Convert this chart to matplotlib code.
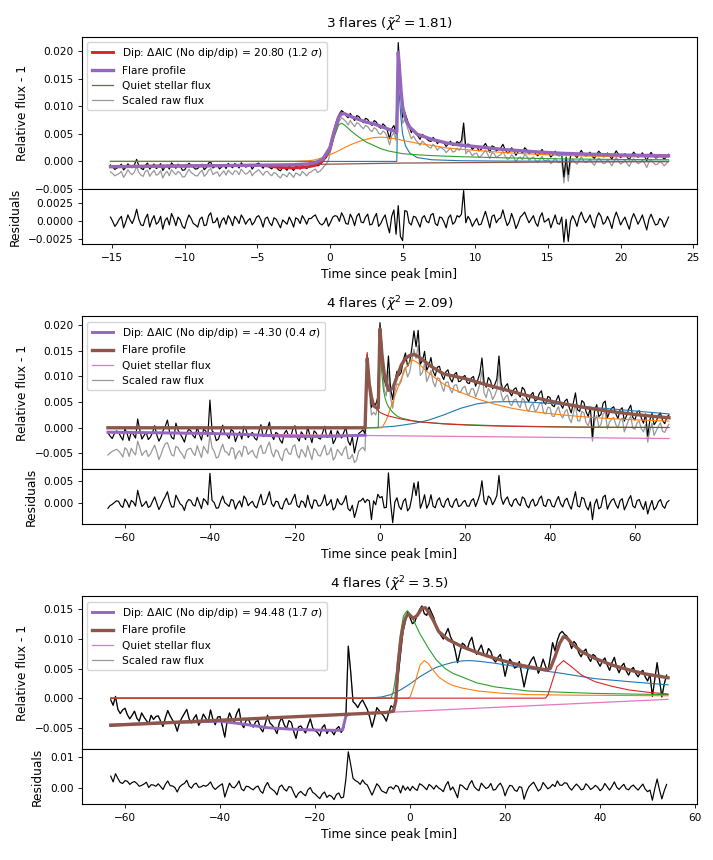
import numpy as np
import matplotlib.pyplot as plt
from matplotlib.ticker import MultipleLocator

plt.rcParams.update({
    "xtick.labelsize": 7.6,
    "ytick.labelsize": 7.6,
    "axes.labelsize": 8.8,
    "axes.titlesize": 9.7,
    "legend.fontsize": 7.7,
    "xtick.major.size": 2.7,
    "ytick.major.size": 2.7,
    "xtick.major.width": 0.6,
    "ytick.major.width": 0.6,
    "axes.linewidth": 0.8,
})

MILLI = 1e-3  # all values below are in units of 1e-3

# ---------------- panel 1: 3 flares (cadence 0.15 min) ----------------
flux1 = [-0.65, -1.0, -1.45, -1.2, -0.84, -0.5, -1.55, -1.1, -0.44, -0.9,
         -1.13, -0.6, 0.37, -0.8, -1.22, -1.5, -0.70, -0.3, -1.39, -0.9,
         -0.48, -1.3, -0.98, -0.4, -1.67, -1.0, -0.66, -1.4, -0.26, -0.7,
         -1.25, -0.5, -0.85, -1.6, -1.54, -0.9, -0.33, -0.7, -1.03, -1.4,
         -1.31, -0.8, -0.51, -1.5, -1.10, -0.3, -0.10, -1.2, -0.88, -0.6,
         -1.37, -1.0, -0.56, -1.3, -0.35, -0.8, -1.15, -0.4, -0.65, -1.2,
         -0.24, -0.7, -1.03, -0.9, -0.52, -1.4, -0.81, -0.5, -0.30, -0.8,
         -1.24, -0.6, -0.55, -1.1, -1.35, -0.8, -0.95, -1.5, -1.70, -1.1,
         -1.25, -1.6, -0.85, -1.2, -1.65, -0.9, -1.05, -1.4, -0.70, -1.0,
         -1.30, -0.9, -0.70, -0.4, -0.25, -0.8, -0.60, -0.2, 0.30, 0.7,
         1.50, 3.2, 4.80, 6.4, 7.60, 8.6, 9.20, 8.9, 8.30, 7.9,
         8.70, 8.0, 7.40, 8.3, 8.10, 7.5, 7.00, 7.8, 7.60, 6.9,
         6.50, 7.4, 7.10, 6.3, 6.00, 6.8, 6.40, 5.6, 4.10, 5.9,
         6.50, 5.0, 21.5, 15.5, 8.0, 8.9, 7.7, 6.4, 5.2, 5.8,
         5.2, 4.6, 4.0, 4.9, 4.6, 4.1, 3.75, 3.6, 4.35, 3.9,
         3.2, 3.8, 3.65, 3.3, 2.7, 3.2, 3.65, 2.9, 2.95, 3.6,
         3.25, 3.8, 6.95, 2.6, 3.15, 2.9, 2.15, 2.6, 2.75, 1.9,
         2.15, 2.7, 3.25, 2.5, 1.65, 2.8, 2.65, 1.9, 2.17, 2.4,
         3.10, 2.2, 1.53, 1.7, 2.46, 2.0, 1.10, 1.8, 2.04, 1.5,
         2.48, 2.1, 1.42, 1.7, 1.97, 1.4, 1.02, 1.6, 2.17, 1.3,
         1.43, 1.5, 0.79, 1.2, 1.85, 1.1, 1.02, 1.2, -2.8, 0.8,
         -2.4, 0.9, 1.63, 1.1, 0.70, 1.4, 1.99, 1.3, 0.98, 1.2,
         1.67, 0.9, 0.56, 1.3, 1.85, 1.4, 0.84, 0.9, 1.53, 1.0,
         0.42, 1.2, 1.91, 1.3, 0.70, 1.0, 1.39, 0.8, 0.28, 1.1,
         1.67, 1.2, 0.76, 1.0, 1.55, 0.9, 0.14, 1.1, 1.63, 1.0,
         0.62, 0.7, 1.21, 0.9, 0.40, 0.8, 1.30]
raw1 = [-1.9, -2.2, -2.6, -2.4, -2.2, -1.8, -2.9, -2.3, -1.5, -2.1,
        -2.4, -1.9, -0.9, -2.0, -2.5, -2.7, -1.8, -1.6, -2.7, -2.1,
        -1.6, -2.5, -2.3, -1.7, -3.0, -2.2, -1.8, -2.6, -1.5, -2.0,
        -2.4, -1.8, -2.1, -2.8, -2.8, -2.1, -1.4, -2.0, -2.3, -2.6,
        -2.6, -2.0, -1.6, -2.7, -2.3, -1.6, -1.3, -2.4, -2.1, -1.9,
        -2.7, -2.2, -1.7, -2.5, -1.6, -2.0, -2.4, -1.7, -1.8, -2.4,
        -1.4, -1.9, -2.3, -2.1, -1.6, -2.6, -2.1, -1.8, -1.5, -2.0,
        -2.5, -1.9, -1.8, -2.3, -2.6, -2.0, -2.2, -2.7, -3.0, -2.3,
        -2.5, -2.8, -2.0, -2.4, -2.9, -2.1, -2.3, -2.6, -1.8, -2.2,
        -2.6, -2.1, -1.9, -1.6, -1.4, -2.0, -1.8, -1.4, -0.9, -0.5,
        0.3, 2.0, 3.6, 5.1, 6.3, 7.3, 7.9, 7.6, 7.2, 6.6,
        7.4, 6.8, 6.3, 7.0, 6.8, 6.3, 5.9, 6.5, 6.3, 5.7,
        5.4, 6.1, 5.8, 5.1, 4.9, 5.5, 5.2, 4.4, 3.0, 4.6,
        5.2, 3.8, 19.8, 14.0, 6.9, 7.6, 6.4, 5.2, 4.1, 4.6,
        3.9, 3.4, 2.9, 3.7, 3.3, 2.9, 2.6, 2.4, 3.1, 2.7,
        2.0, 2.6, 2.4, 2.1, 1.6, 2.0, 2.4, 1.7, 1.8, 2.4,
        2.0, 2.6, 5.6, 1.4, 1.9, 1.7, 1.0, 1.4, 1.5, 0.7,
        1.0, 1.5, 2.0, 1.3, 0.5, 1.6, 1.4, 0.7, 1.0, 1.2,
        1.8, 1.0, 0.4, 0.5, 1.2, 0.8, -0.1, 0.6, 0.8, 0.3,
        1.3, 0.9, 0.2, 0.5, 0.8, 0.2, -0.2, 0.4, 0.9, 0.1,
        0.2, 0.3, -0.4, 0.0, 0.6, -0.1, -0.2, 0.0, -3.9, -0.4,
        -3.6, -0.3, 0.4, -0.1, -0.5, 0.2, 0.8, 0.1, -0.2, 0.0,
        0.4, -0.3, -0.7, 0.1, 0.6, 0.2, -0.4, -0.3, 0.3, -0.2,
        -0.8, 0.0, 0.7, 0.1, -0.5, -0.2, 0.2, -0.4, -0.9, -0.1,
        0.5, 0.0, -0.4, -0.2, 0.3, -0.3, -1.1, -0.1, 0.4, -0.2,
        -0.6, -0.5, 0.0, -0.3, -0.8, -0.4, 0.1]
resid1 = [0.5, -0.1, -0.8, -0.4, 0.2, 0.6, -1.0, -0.2, 0.8, 0.1,
          -0.4, 0.4, 1.6, 0.2, -0.6, -0.7, 0.3, 0.9, -0.9, 0.1,
          0.7, -0.5, -0.2, 0.6, -1.2, 0.0, 0.4, -0.6, 1.0, 0.3,
          -0.7, 0.5, 0.1, -0.8, -1.1, 0.0, 0.8, 0.3, -0.4, -0.6,
          -0.9, 0.2, 0.5, -0.7, -0.6, 0.7, 1.1, -0.3, -0.2, 0.4,
          -1.0, 0.0, 0.4, -0.5, 0.7, 0.2, -0.7, 0.6, 0.2, -0.4,
          0.8, 0.3, -0.5, 0.0, 0.3, -0.6, -0.2, 0.5, 0.7, 0.1,
          -0.9, 0.3, 0.5, -0.3, -0.7, 0.4, 0.2, -0.4, -1.0, 0.1,
          -0.2, -0.5, 0.5, -0.1, -0.9, 0.4, 0.2, -0.4, 0.7, 0.2,
          -0.5, 0.3, 0.3, 0.6, 0.8, 0.1, -0.4, -0.6, -0.3, 0.4,
          -0.8, -0.2, 0.5, 0.7, 0.6, -0.1, 1.1, 0.5, -0.4, -0.5,
          0.9, 0.3, -0.7, 0.6, 1.0, -0.2, -0.3, 0.5, 0.9, -0.6,
          -0.5, 0.4, 1.0, -0.8, -0.4, 0.3, 0.8, -0.6, -1.7, 0.6,
          1.5, -1.9, 2.1, -2.2, -2.8, 1.4, 1.3, -0.3, -0.6, 0.6,
          0.5, -0.2, -0.9, 0.4, 0.7, -0.1, -0.3, 0.8, 1.0, -0.4,
          -0.7, 0.5, 0.4, -0.2, -1.0, 0.4, 0.8, -0.5, -0.2, 0.7,
          0.5, 0.9, 4.2, -0.3, 0.6, 0.1, -0.8, -0.2, 0.3, -0.6,
          -0.5, 0.4, 1.3, 0.2, -1.0, 0.6, 0.8, -0.3, 0.2, 0.4,
          1.5, 0.3, -0.7, -0.2, 1.0, 0.1, -1.1, -0.4, 0.5, 0.8,
          1.2, 0.4, -0.3, 0.2, 0.7, -0.3, -0.8, 0.5, 1.1, -0.2,
          0.0, 0.3, -1.0, -0.1, 0.8, -0.4, -0.5, 0.5, -3.0, 0.2,
          -2.9, -0.1, 0.7, 0.1, -0.8, 0.5, 1.2, 0.3, -0.3, 0.2,
          0.8, -0.3, -1.0, 0.4, 1.1, 0.6, -0.5, -0.2, 0.6, -0.1,
          -1.1, 0.3, 1.2, 0.4, -0.6, 0.0, 0.5, -0.4, -1.2, 0.2,
          1.0, 0.3, -0.5, 0.1, 0.8, -0.3, -1.3, 0.2, 0.9, 0.1,
          -0.6, -0.5, 0.3, 0.0, -0.9, -0.2, 0.5]

blue1_t = [-15.1, 4.6, 4.7, 4.8, 4.9, 5.0, 5.2, 5.5, 6.0, 7.0, 9.0, 12.0, 23.3]
blue1 = [0, 0, 14.5, 11.0, 7.5, 5.0, 2.8, 1.5, 0.7, 0.3, 0.12, 0.06, 0.02]
orange1_t = [-15.1, -2.5, -1.5, -1.0, -0.5, 0.0, 0.5, 1.0, 1.5, 2.0, 2.5, 3.0, 3.5,
             4.0, 4.5, 5.0, 6.0, 7.0, 8.0, 9.0, 10.0, 12.0, 14.0, 16.0, 18.0, 20.0, 23.3]
orange1 = [0, 0, 0.1, 0.3, 0.7, 1.2, 1.8, 2.5, 3.1, 3.6, 4.0, 4.3, 4.4,
           4.3, 4.1, 3.8, 3.3, 2.9, 2.45, 2.2, 2.0, 1.6, 1.3, 1.08, 0.95, 0.85, 0.75]
green1_t = [-15.1, -1.0, -0.5, 0.0, 0.3, 0.6, 0.8, 1.0, 1.5, 2.0, 2.5, 3.0, 3.5, 4.0,
            5.0, 6.0, 7.0, 9.0, 12.0, 16.0, 20.0, 23.3]
green1 = [0, 0, 0.2, 1.8, 4.5, 6.6, 6.9, 6.6, 5.4, 4.4, 3.5, 2.9, 2.3, 1.9,
          1.4, 1.2, 1.05, 0.85, 0.65, 0.45, 0.35, 0.3]
quiet1_t = [-15.1, -5.0, 0.0, 5.0, 15.0, 23.3]
quiet1 = [-0.95, -0.70, -0.50, -0.30, -0.12, -0.05]
dip1_t = [-15.1, -5.0, -4.5, -4.0, -3.5, -3.0, -2.5, -2.0, -1.5, -1.0, -0.5, 0.0, 0.3, 0.6, 0.8]
dip1 = [-0.95, -0.70, -0.76, -0.92, -1.08, -1.15, -1.17, -1.12, -0.98, -0.72, 0.1, 2.3,
        5.4, 8.0, 8.63]
profile1_t = [-15.1, -5.0, -2.5, -1.5, -1.0, -0.5, 0.0, 0.3, 0.6, 0.8, 1.0, 1.5, 2.0, 2.5,
              3.0, 3.5, 4.0, 4.5, 4.6, 4.7, 4.8, 4.9, 5.0, 5.2, 5.5, 6.0, 7.0, 8.0, 9.0,
              10.0, 12.0, 14.0, 16.0, 18.0, 20.0, 23.3]
profile1 = [-0.95, -0.70, -0.60, -0.46, -0.24, 0.38, 2.5, 5.51, 8.02, 8.63, 8.64, 8.06,
            7.58, 7.1, 6.82, 6.34, 5.86, 5.43, 5.33, 19.76, 16.2, 12.65, 9.9, 7.62, 6.19,
            4.92, 3.99, 3.35, 2.94, 2.69, 2.14, 1.76, 1.46, 1.29, 1.15, 1.02]

# ---------------- panel 2: 4 flares (cadence 0.5 min) ----------------
flux2 = [-1.0, -1.6, -2.1, -1.2, -0.6, -0.9, -1.7, -2.4, -0.2, -1.1,
         -2.5, -0.7, -1.3, -2.0, 1.7, -0.4, -2.2, -1.5, -0.9, -2.3,
         -1.8, -0.9, 0.4, -1.4, -2.6, -1.8, -0.5, 0.3, 1.5, -0.8,
         -1.9, -2.2, 0.9, -0.5, -1.2, -1.9, -2.8, -1.1, -0.3, -0.6,
         -1.5, -2.0, 0.2, -1.3, -2.4, -0.3, -0.6, -1.7, 5.4, -0.6,
         -1.0, -2.5, -2.2, -0.9, 0.5, -1.2, -1.4, -2.1, -0.3, -0.7,
         -2.7, -1.5, -0.8, -2.2, 0.3, -0.4, -1.9, -1.3, -0.9, -2.0,
         -2.4, -0.8, 0.6, -1.7, -1.6, -0.2, 1.1, -1.4, -2.3, -0.9,
         -1.2, -2.4, -3.0, -1.1, -0.5, -1.6, -1.8, -0.3, 0.4, -1.9,
         -2.6, -0.8, -1.4, -2.3, 0.2, -1.5, -2.9, -0.6, -1.0, -2.0,
         -2.2, -1.0, 0.3, -1.9, -1.7, -0.5, -3.1, -2.3, -0.6, -1.4,
         -2.0, -0.9, 0.1, -2.6, -3.4, -1.8, -4.9, -2.9, -1.1, -0.8,
         -0.4, -1.2, 14.3, 9.0, 4.0, 4.8, 4.5, 6.0, 20.5, 15.5,
         9.5, 8.0, 14.0, 7.6, 5.5, 9.0, 11.0, 10.2, 10.8, 13.2,
         14.6, 12.0, 12.9, 15.5, 18.9, 15.8, 19.0, 12.4, 13.1, 14.9,
         11.2, 12.1, 13.7, 11.0, 10.1, 11.8, 12.0, 10.3, 9.4, 10.9,
         11.3, 9.6, 8.9, 10.4, 10.8, 9.0, 9.1, 9.9, 10.2, 8.8,
         8.6, 9.7, 10.0, 8.1, 9.3, 10.6, 13.6, 8.9, 7.9, 9.8,
         9.2, 7.6, 8.4, 9.5, 14.0, 8.8, 7.1, 8.1, 8.6, 6.9,
         6.2, 7.5, 7.8, 6.6, 6.0, 7.9, 7.4, 5.8, 5.1, 6.4,
         6.9, 5.2, 5.5, 6.7, 7.2, 5.0, 4.6, 6.1, 5.9, 4.4,
         4.1, 5.4, 6.3, 4.6, 3.8, 5.2, 5.6, 4.0, 2.9, 4.9,
         6.8, 3.5, 3.2, 5.3, 4.9, 3.1, 2.2, 4.0, -1.9, 3.4,
         4.5, 2.2, 2.6, 4.8, 5.2, 1.9, 3.0, 3.8, 4.1, 2.7,
         1.8, 3.5, 3.9, 1.3, 2.3, 3.6, 4.4, 2.0, 1.5, 3.1,
         3.3, 1.9, 0.9, 2.7, -1.6, 1.5, 2.8, 0.6, 1.2, 2.4,
         2.9, 1.4, 0.8, 2.1, 2.5]
raw2 = [-5.3, -4.9, -4.6, -4.4, -4.2, -4.5, -5.0, -5.7, -3.9, -4.3,
        -5.6, -4.0, -4.8, -5.3, -2.6, -3.9, -5.4, -4.8, -4.4, -5.6,
        -5.1, -4.2, -3.4, -4.7, -6.2, -5.2, -4.0, -3.1, -2.9, -4.1,
        -5.3, -5.5, -3.6, -3.9, -4.7, -5.2, -6.0, -4.5, -4.1, -4.0,
        -4.9, -5.4, -3.5, -4.7, -5.8, -3.6, -4.3, -5.0, -1.4, -3.9,
        -4.6, -5.9, -5.7, -4.3, -3.2, -4.6, -4.8, -5.4, -3.9, -4.0,
        -6.1, -4.9, -4.5, -5.6, -3.6, -3.8, -5.2, -4.7, -4.4, -5.4,
        -5.9, -4.1, -3.4, -5.0, -4.9, -3.6, -2.8, -4.8, -5.7, -4.3,
        -4.6, -5.8, -6.4, -4.5, -4.0, -5.0, -5.2, -3.7, -3.3, -5.3,
        -5.9, -4.2, -4.8, -5.7, -3.5, -4.9, -6.2, -4.0, -4.5, -5.4,
        -5.5, -4.4, -3.4, -5.3, -5.0, -3.9, -6.3, -5.7, -4.2, -4.8,
        -5.4, -4.3, -3.6, -6.0, -6.0, -5.2, -6.8, -6.3, -4.6, -4.1,
        -3.8, -4.5, 11.6, 6.8, 2.5, 3.0, 2.5, 4.2, 18.0, 13.4,
        7.4, 6.2, 11.0, 5.8, 3.8, 7.0, 8.6, 8.3, 9.0, 11.0,
        11.8, 9.9, 10.9, 13.2, 15.3, 13.5, 16.1, 10.2, 10.8, 12.6,
        9.0, 10.0, 11.2, 8.9, 8.0, 9.7, 9.6, 8.2, 7.1, 8.8,
        9.0, 7.5, 6.8, 8.3, 8.4, 6.9, 7.0, 7.8, 8.1, 6.7,
        6.5, 7.6, 7.6, 6.0, 7.1, 8.5, 11.2, 6.8, 5.9, 7.7,
        7.0, 5.5, 6.3, 7.4, 11.5, 6.7, 5.2, 6.0, 6.4, 4.8,
        4.3, 5.4, 5.6, 4.5, 3.9, 5.8, 5.3, 3.7, 3.2, 4.3,
        4.8, 3.1, 3.6, 4.6, 5.0, 2.9, 2.7, 4.0, 3.9, 2.3,
        2.2, 3.3, 4.1, 2.5, 1.9, 3.1, 3.6, 1.9, 1.0, 2.8,
        4.6, 1.4, 1.3, 3.2, 2.9, 1.0, 0.4, 1.9, -2.6, 1.3,
        2.4, 0.1, 0.7, 2.7, 3.1, -0.2, 1.1, 1.7, 2.0, 0.6,
        0.0, 1.4, 1.9, -0.8, 0.4, 1.5, 2.3, -0.1, -0.3, 1.0,
        1.3, -0.2, -0.8, 0.6, -2.8, -0.6, 0.9, -1.5, -0.6, 0.3,
        1.0, -0.7, -0.9, 0.0, 0.7]
resid2 = [-1.2, -0.6, -0.3, 0.1, 0.5, 0.4, -0.6, -1.0, 0.9, 0.2,
          -1.0, 0.6, 0.2, -0.7, 2.9, 0.9, -0.8, -0.3, 0.4, -1.0,
          -0.7, 0.4, 1.4, -0.1, -1.5, -0.5, 0.6, 1.5, 2.6, 0.4,
          -0.9, -0.9, 1.8, 0.8, -0.2, -0.6, -1.7, 0.1, 0.8, 0.6,
          -0.4, -0.7, 1.3, 0.0, -1.3, 1.0, 0.5, -0.4, 6.8, 0.6,
          0.1, -1.2, -1.1, 0.4, 1.6, 0.1, -0.3, -0.8, 0.8, 0.6,
          -1.4, -0.2, 0.5, -0.9, 1.6, 0.9, -0.6, 0.0, 0.4, -0.7,
          -1.1, 0.5, 2.0, -0.4, -0.2, 1.1, 2.6, -0.1, -0.8, 0.4,
          0.3, -1.1, -1.4, 0.2, 1.1, -0.3, -0.2, 1.0, 2.0, -0.6,
          -1.0, 0.5, 0.2, -1.0, 1.8, -0.2, -1.3, 0.7, 0.6, -0.7,
          -0.6, 0.3, 1.9, -0.6, -0.1, 0.8, -1.6, -1.0, 1.0, -0.1,
          -0.4, 0.4, 1.7, -1.3, -1.8, -0.5, -3.3, -1.6, 0.4, 0.5,
          1.1, 0.1, 0.8, 0.5, -3.8, 0.5, -0.4, 2.0, 1.2, 1.5,
          -1.1, -1.0, 6.9, 0.1, -4.5, 0.2, 1.2, -0.8, -1.5, 0.4,
          1.0, -1.8, -1.1, 1.3, 4.6, 1.7, 4.9, -1.2, 0.1, 1.9,
          -1.2, -0.2, 1.9, -0.7, -1.1, 0.6, 1.2, -0.5, -1.0, 0.5,
          1.1, -0.6, -1.0, 0.4, 1.0, -0.8, -0.6, 0.2, 0.6, -0.7,
          -0.7, 0.55, 1.0, -0.8, 0.5, 1.95, 5.1, 0.5, -0.4, 1.6,
          1.1, -0.4, 0.5, 1.7, 6.3, 1.25, -0.3, 0.8, 1.4, -0.2,
          -0.8, 0.6, 1.0, -0.1, -0.6, 1.4, 1.0, -0.5, -1.1, 0.3,
          0.9, -0.7, -0.3, 1.0, 1.6, -0.5, -0.8, 0.8, 0.7, -0.7,
          -0.9, 0.5, 1.5, -0.15, -0.9, 0.6, 1.1, -0.4, -1.4, 0.65,
          2.6, -0.65, -0.9, 1.3, 1.0, -0.75, -1.6, 0.25, -3.8, -0.25,
          0.9, -1.35, -0.9, 1.35, 1.8, -1.4, -0.2, 0.65, 1.0, -0.35,
          -1.2, 0.55, 1.0, -1.55, -0.5, 0.85, 1.7, -0.65, -1.1, 0.55,
          0.8, -0.55, -1.5, 0.35, -2.5, -0.75, 0.6, -1.57, -0.95, 0.28,
          0.8, -0.65, -1.2, 0.13, 0.55]

blue2_t = [-64, -3.0, 0.0, 3.5, 8.0, 11.5, 15.0, 19.0, 23.0, 27.0, 31.0, 35.0, 39.0,
           43.0, 47.0, 51.0, 55.0, 59.0, 63.0, 68.0]
blue2 = [0, 0, 0.1, 0.3, 0.85, 1.5, 2.5, 3.8, 4.7, 5.05, 5.1, 5.0, 4.8,
         4.55, 4.25, 3.9, 3.65, 3.35, 3.05, 2.7]
orange2_t = [-64, 0.5, 1.5, 3.0, 4.5, 6.0, 7.0, 7.8, 9.0, 11.0, 13.0, 15.0, 17.0, 19.0,
             23.0, 27.0, 31.0, 35.0, 39.0, 43.0, 47.0, 51.0, 55.0, 60.0, 64.0, 68.0]
orange2 = [0, 0, 1.5, 5.0, 8.5, 11.5, 12.8, 13.2, 12.6, 11.0, 9.7, 8.5, 7.6, 6.9,
           5.6, 4.6, 3.8, 3.25, 2.85, 2.5, 2.2, 1.95, 1.75, 1.55, 1.42, 1.3]
green2_t = [-64, -0.4, 0.0, 0.4, 0.8, 1.2, 1.6, 2.0, 3.0, 4.0, 5.0, 7.5, 10.0, 15.0,
            20.0, 30.0, 45.0, 68.0]
green2 = [0, 0, 17.0, 11.0, 7.5, 5.8, 4.8, 4.1, 3.0, 2.3, 1.9, 1.4, 1.1, 0.8,
          0.6, 0.35, 0.15, 0.05]
red2_t = [-64, -3.4, -3.0, -2.7, -2.4, -2.0, -1.5, -1.0, 0.0, 1.0, 2.0, 3.5, 5.0, 7.5,
          10.0, 15.0, 20.0, 25.0, 30.0, 40.0, 50.0, 68.0]
red2 = [0, 0, 14.7, 10.0, 7.5, 5.5, 4.5, 3.8, 3.0, 2.6, 2.3, 2.0, 1.7, 1.35,
        1.1, 0.75, 0.55, 0.4, 0.3, 0.17, 0.1, 0.05]
quiet2_t = [-64, 68]
quiet2 = [-1.0, -2.1]
dip2_t = [-64, -50, -40, -32, -28, -24, -20, -15, -10, -6, -3.5]
dip2 = [-0.85, -1.0, -1.1, -1.3, -1.45, -1.6, -1.68, -1.7, -1.62, -1.5, -1.45]
profile2_t = [-64, -3.5, -3.0, -2.5, -2.0, -1.5, -1.0, -0.4, 0.0, 0.5, 1.0, 2.0, 3.0,
              4.0, 5.0, 6.0, 7.0, 8.0, 9.0, 10.0, 12.0, 15.0, 20.0, 25.0, 30.0, 35.0,
              40.0, 45.0, 50.0, 55.0, 60.0, 64.0, 68.0]
profile2 = [0, 0, 13.5, 8.5, 6.0, 4.3, 4.0, 3.9, 19.3, 14.0, 10.6, 7.3, 7.7,
            9.9, 12.2, 13.5, 14.1, 14.3, 13.9, 13.3, 12.0, 10.5, 9.6, 8.4, 7.3, 6.2,
            5.2, 4.4, 3.7, 3.1, 2.6, 2.25, 1.95]

# ---------------- panel 3: 4 flares (cadence 0.5 min) ----------------
flux3 = [-0.3, -1.2, 0.3, -1.9, -2.6, -2.0, -1.7, -2.8, -3.5, -2.9,
         -2.2, -3.4, -3.9, -2.5, -3.2, -3.8, -4.3, -2.9, -3.6, -3.1,
         -3.0, -3.9, -4.8, -3.3, -2.1, -3.0, -3.7, -4.4, -5.6, -4.1,
         -3.3, -2.6, -1.9, -3.5, -4.2, -3.4, -2.8, -4.6, -3.9, -2.7,
         -3.4, -4.1, -2.0, -3.6, -4.5, -3.2, -3.1, -4.8, -6.6, -3.9,
         -2.5, -3.5, -4.0, -2.6, -1.8, -4.3, -5.0, -3.7, -3.6, -4.5,
         -4.9, -4.0, -3.8, -5.1, -5.7, -4.4, -2.9, -4.2, -4.6, -5.2,
         -6.0, -4.1, -3.3, -4.5, -5.2, -3.8, -4.1, -5.6, -6.8, -4.9,
         -4.7, -5.3, -5.9, -4.6, -3.5, -5.0, -5.5, -5.8, -6.4, -5.0,
         -4.5, -6.0, -5.3, -5.6, -6.2, -5.2, -4.8, -5.8, -5.1, -3.0,
         8.8, 4.5, -0.6, -1.0, -1.6, -0.8, -0.3, -1.1, -1.9, -3.2,
         -4.9, -3.4, -1.6, -2.1, -2.6, -3.1, -3.9, -2.5, -1.3, -1.6,
         -0.5, 3.8, 7.5, 11.2, 13.0, 14.6, 13.6, 12.6, 12.9, 14.1,
         15.0, 15.6, 14.3, 14.0, 15.4, 14.5, 13.6, 12.0, 11.2, 10.6,
         10.0, 10.9, 11.8, 10.4, 9.6, 8.0, 6.0, 7.8, 9.3, 9.0,
         8.2, 9.5, 10.3, 8.5, 7.4, 8.2, 9.0, 7.6, 7.0, 8.4,
         7.9, 6.6, 6.1, 6.9, 7.4, 5.9, 3.7, 5.5, 6.6, 6.0,
         5.1, 5.3, 6.2, 4.0, 1.9, 3.8, 5.6, 6.4, 7.0, 5.8,
         4.2, 5.2, 6.6, 5.4, 4.5, 6.8, 9.4, 8.0, 9.8, 10.9,
         11.3, 10.8, 10.5, 9.6, 8.4, 9.6, 9.1, 7.7, 7.0, 7.9,
         8.3, 6.9, 6.2, 7.4, 7.1, 6.1, 5.4, 6.3, 6.8, 5.6,
         4.7, 6.0, 6.9, 5.2, 4.3, 5.4, 5.9, 4.6, 3.9, 4.8,
         5.2, 4.2, 3.6, 4.4, 4.7, 3.6, 2.9, 4.0, 0.3, 3.2,
         6.0, 3.1, 0.2, 2.4, 3.9]
resid3 = [3.8, 2.0, 4.6, 3.1, 1.8, 1.5, 2.4, 2.2, 1.2, 1.8,
          2.1, 1.5, 0.6, 0.9, 1.3, 1.9, 0.2, 1.1, 1.0, 0.6,
          1.4, 0.5, -0.4, 1.2, 2.3, 0.8, 0.7, 0.2, -1.2, 0.4,
          1.1, 1.5, 2.5, 0.6, 0.0, 1.2, 1.6, 0.3, 0.4, 0.9,
          0.6, 1.1, 2.0, 0.4, -0.4, 0.3, 0.9, 1.4, -2.8, -0.5,
          1.6, 0.4, 0.1, 1.0, 2.3, -0.2, -0.8, 0.6, 0.5, -0.1,
          -0.5, 0.3, 0.7, -0.9, -1.6, 0.6, 1.8, 0.2, -0.4, -1.0,
          -2.1, 0.4, 1.0, -0.3, -0.9, 0.5, 0.3, -1.4, -3.0, -1.6,
          -1.0, -1.8, -2.4, -0.5, 0.2, -1.3, -1.8, -2.6, -3.3, -1.9,
          -1.2, -2.9, -2.2, -2.6, -3.6, -2.0, -1.5, -3.1, -2.8, 3.0,
          11.5, 7.5, 3.1, 2.4, 2.0, 1.2, 2.6, 1.5, 1.0, -0.6,
          -2.2, -0.4, 1.4, 0.6, -0.8, -1.2, -1.6, 0.2, 0.4, -0.3,
          0.9, 0.5, -1.5, 0.8, -0.6, 0.4, -0.8, 0.6, -0.2, -0.7,
          1.4, 1.0, 0.3, -0.5, 1.2, 0.6, -0.3, 0.9, 0.1, -0.4,
          -1.1, 0.9, 2.1, -0.6, 0.4, -1.2, -3.0, 1.1, 0.8, 0.0,
          -0.5, 1.3, 2.4, 0.5, -0.3, -0.8, 1.6, 0.7, -0.1, 0.3,
          1.5, -0.6, -0.4, 0.8, 1.6, 0.2, -2.4, -0.4, 0.9, 0.7,
          -0.6, -1.0, 0.5, 0.2, -3.5, -1.2, 0.4, 1.2, 1.9, 0.5,
          -0.9, -0.2, 1.8, 0.8, -0.2, 0.3, 1.2, 0.5, 2.3, 1.0,
          0.9, 1.7, 1.6, 0.2, -0.6, 0.4, 1.3, 0.6, -0.5, -0.3,
          1.4, 0.7, -0.4, 0.1, 0.9, 0.3, -0.8, -0.1, 1.5, 0.4,
          -0.6, 0.6, 2.0, 0.3, -0.4, 0.5, 1.2, -0.2, -0.5, 0.5,
          1.0, 0.1, -0.6, 0.4, 1.3, -0.3, -1.1, -0.6, -3.8, -0.2,
          2.9, -0.5, -3.4, -0.8, 1.2]

blue3_t = [-63, -9.0, -6.0, -4.2, -2.0, 0.35, 2.0, 3.9, 5.5, 7.4, 9.0, 10.9, 12.5, 14.4,
           17.9, 21.4, 24.9, 31.9, 38.9, 46.0, 54.3]
blue3 = [0, 0, 0.2, 0.56, 1.4, 2.6, 3.6, 4.5, 5.2, 5.7, 6.05, 6.3, 6.35, 6.25,
         5.9, 5.45, 5.0, 4.2, 3.3, 2.8, 2.25]
orange3_t = [-63, -0.5, 0.0, 1.0, 2.1, 3.0, 3.8, 4.6, 6.0, 7.4, 8.8, 11.0, 14.4, 19.0,
             24.9, 35.0, 45.0, 54.3]
orange3 = [0, 0, 0.2, 2.5, 5.6, 6.35, 5.9, 5.0, 3.6, 2.8, 2.2, 1.7, 1.2, 0.85,
           0.6, 0.5, 0.45, 0.4]
green3_t = [-63, -4.0, -3.5, -2.8, -2.1, -1.4, -0.6, 0.0, 1.0, 2.0, 3.9, 5.5, 7.4, 9.0,
            10.9, 14.0, 17.9, 24.9, 32.0, 38.9, 46.0, 54.3]
green3 = [0, 0, 1.2, 4.8, 10.5, 13.9, 14.8, 14.3, 12.7, 11.0, 8.4, 6.5, 5.0, 4.2,
          3.6, 2.6, 1.9, 1.2, 1.0, 0.8, 0.7, 0.6]
red3_t = [-63, 28.5, 29.0, 29.8, 30.9, 32.3, 34.0, 36.1, 38.9, 42.5, 46.0, 50.0, 54.3]
red3 = [0, 0, 0.5, 2.5, 5.3, 6.35, 5.3, 3.9, 2.8, 2.0, 1.4, 1.0, 0.7]
quiet3_t = [-63, 54.3]
quiet3 = [-4.6, -0.2]
dip3_t = [-63, -50, -40, -35, -30, -25, -20, -15, -14.2, -13.5, -13.0]
dip3 = [-4.55, -4.1, -3.9, -4.4, -5.0, -5.25, -5.4, -5.45, -5.35, -3.0, -2.75]
profile3_t = [-63, -13.5, -5.0, -3.5, -3.0, -2.5, -2.0, -1.5, -1.0, -0.5, 0.0, 0.7, 1.5,
              2.5, 3.2, 3.9, 5.0, 6.0, 8.0, 11.0, 14.5, 18.0, 21.5, 25.0, 28.5, 29.5,
              30.5, 31.5, 32.3, 33.0, 34.0, 36.0, 39.0, 42.5, 46.0, 49.5, 54.3]
profile3 = [-4.6, -2.74, -2.42, -2.2, -0.5, 5.9, 9.5, 12.0, 13.5, 14.2, 14.0, 13.5, 14.0,
            15.2, 15.3, 14.6, 13.0, 11.3, 9.9, 8.7, 7.6, 6.7, 5.9, 5.3, 4.8, 5.0,
            7.0, 9.3, 10.4, 10.2, 9.3, 7.9, 6.7, 5.6, 4.8, 4.1, 3.45]

time1 = np.linspace(-15.1, 23.3, len(flux1))
time2 = np.linspace(-64, 68, len(flux2))
time3 = np.linspace(-63, 54, len(flux3))

C_BLUE, C_ORANGE, C_GREEN, C_RED = "#1f77b4", "#ff7f0e", "#2ca02c", "#d62728"
C_PURPLE, C_BROWN, C_PINK, C_RAW = "#9467bd", "#8c564b", "#e377c2", "0.6"


def m(values):
    return np.asarray(values, dtype=float) * MILLI


def draw_panel(ax, axr, t, flux, raw, resid, comps, quiet, dip, profile,
               colors, dip_label, title):
    dip_c, prof_c, quiet_c = colors
    raw_line, = ax.plot(t, m(raw), color=C_RAW, lw=0.9)
    ax.plot(t, m(flux), color="k", lw=0.85)
    for (ct, cv), col in comps:
        ax.plot(ct, m(cv), color=col, lw=0.8)
    quiet_line, = ax.plot(quiet[0], m(quiet[1]), color=quiet_c, lw=0.9)
    dip_line, = ax.plot(dip[0], m(dip[1]), color=dip_c, lw=2.1)
    prof_line, = ax.plot(profile[0], m(profile[1]), color=prof_c, lw=2.4)
    ax.legend([dip_line, prof_line, quiet_line, raw_line],
              [dip_label, "Flare profile", "Quiet stellar flux", "Scaled raw flux"],
              loc="upper left")
    ax.set_title(title)
    ax.set_ylabel("Relative flux - 1")
    ax.tick_params(axis="x", bottom=False, labelbottom=False)

    axr.plot(t, m(resid), color="k", lw=0.85)
    axr.set_ylabel("Residuals")
    axr.set_xlabel("Time since peak [min]")


fig = plt.figure(figsize=(7.13, 8.6), dpi=100)
left, width = 0.115, 0.8626
panels = []
for main_bottom, res_bottom in [(0.7802, 0.7163), (0.4547, 0.3907), (0.1291, 0.0651)]:
    ax = fig.add_axes([left, main_bottom, width, 0.1773])
    axr = fig.add_axes([left, res_bottom, width, 0.0640], sharex=ax)
    panels.append((ax, axr))

# panel 1
ax, axr = panels[0]
draw_panel(ax, axr, time1, flux1, raw1, resid1,
           [((blue1_t, blue1), C_BLUE), ((orange1_t, orange1), C_ORANGE),
            ((green1_t, green1), C_GREEN)],
           (quiet1_t, quiet1), (dip1_t, dip1), (profile1_t, profile1),
           (C_RED, C_PURPLE, C_BROWN),
           "Dip: \u0394AIC (No dip/dip) = 20.80 (1.2 $\\sigma$)",
           r"3 flares ($\tilde{\chi}^2 = 1.81$)")
ax.set_xlim(-17.06, 25.26)
ax.set_ylim(-0.005, 0.0226)
ax.yaxis.set_major_locator(MultipleLocator(0.005))
axr.set_ylim(-0.00326, 0.00443)
axr.yaxis.set_major_locator(MultipleLocator(0.0025))
axr.xaxis.set_major_locator(MultipleLocator(5))

# panel 2
ax, axr = panels[1]
draw_panel(ax, axr, time2, flux2, raw2, resid2,
           [((blue2_t, blue2), C_BLUE), ((orange2_t, orange2), C_ORANGE),
            ((green2_t, green2), C_GREEN), ((red2_t, red2), C_RED)],
           (quiet2_t, quiet2), (dip2_t, dip2), (profile2_t, profile2),
           (C_PURPLE, C_BROWN, C_PINK),
           "Dip: \u0394AIC (No dip/dip) = -4.30 (0.4 $\\sigma$)",
           r"4 flares ($\tilde{\chi}^2 = 2.09$)")
ax.set_xlim(-70.1, 74.6)
ax.set_ylim(-0.00803, 0.0217)
ax.yaxis.set_major_locator(MultipleLocator(0.005))
axr.set_ylim(-0.0048, 0.0078)
axr.yaxis.set_major_locator(MultipleLocator(0.005))
axr.xaxis.set_major_locator(MultipleLocator(20))

# panel 3
ax, axr = panels[2]
draw_panel(ax, axr, time3, flux3, flux3, resid3,
           [((blue3_t, blue3), C_BLUE), ((orange3_t, orange3), C_ORANGE),
            ((green3_t, green3), C_GREEN), ((red3_t, red3), C_RED)],
           (quiet3_t, quiet3), (dip3_t, dip3), (profile3_t, profile3),
           (C_PURPLE, C_BROWN, C_PINK),
           "Dip: \u0394AIC (No dip/dip) = 94.48 (1.7 $\\sigma$)",
           r"4 flares ($\tilde{\chi}^2 = 3.5$)")
ax.set_xlim(-69.05, 60.4)
ax.set_ylim(-0.0086, 0.0172)
ax.yaxis.set_major_locator(MultipleLocator(0.005))
axr.set_ylim(-0.0050, 0.0124)
axr.yaxis.set_major_locator(MultipleLocator(0.01))
axr.xaxis.set_major_locator(MultipleLocator(20))

fig.savefig("out.png", dpi=100)
